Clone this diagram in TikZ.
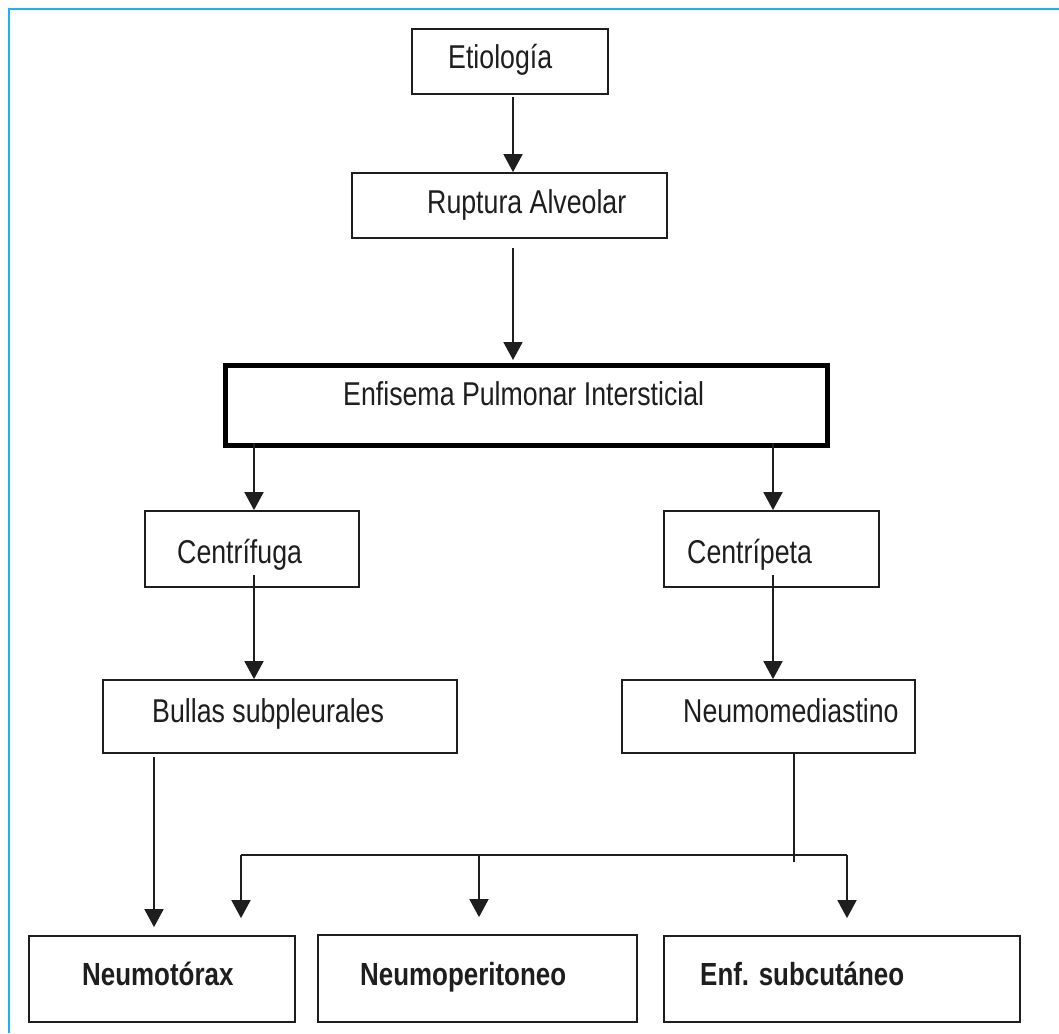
\documentclass[tikz,border=0pt]{standalone}
\usepackage{fontspec}
\setmainfont{Liberation Sans}[FakeStretch=0.81]
\usetikzlibrary{arrows.meta,calc}
\definecolor{frameblue}{HTML}{1AB4F0}
\definecolor{ink}{HTML}{1E1E1E}

\begin{document}
\begin{tikzpicture}[x=1pt,y=-1pt,
  box/.style={draw=ink, line width=1.8pt, inner sep=0pt},
  mainbox/.style={draw=black, line width=5pt, inner sep=0pt},
  txt/.style={anchor=base west, inner sep=0pt, text=ink, font=\fontsize{33}{38}\selectfont},
  btxt/.style={txt, font=\fontsize{32}{38}\selectfont\bfseries},
  arr/.style={draw=ink, line width=1.8pt, -{Triangle[width=19pt,length=18pt]}},
  link/.style={draw=ink, line width=1.8pt}
]
\useasboundingbox (0,0) rectangle (1059,1033);
\fill[white] (0,0) rectangle (1059,1033);

% outer frame (top and left edges)
\draw[frameblue, line width=2.5pt] (9,1033) -- (9,9) -- (1059,9);

% boxes
\node[box, minimum width=196pt, minimum height=65pt] (etio) at (510,61.5) {};
\node[box, minimum width=315pt, minimum height=65pt] (rupt) at (509.5,205.5) {};
\node[mainbox, minimum width=602pt, minimum height=80pt] (enf) at (526.5,405.5) {};
\node[box, minimum width=214pt, minimum height=76pt] (cfug) at (252,549) {};
\node[box, minimum width=215pt, minimum height=76pt] (cpet) at (771.5,549) {};
\node[box, minimum width=354pt, minimum height=73pt] (bull) at (280,716.5) {};
\node[box, minimum width=293pt, minimum height=73pt] (nmed) at (768.5,716.5) {};
\node[box, minimum width=266pt, minimum height=86pt] (ntx) at (162,979) {};
\node[box, minimum width=319pt, minimum height=87pt] (nper) at (477.5,978.5) {};
\node[box, minimum width=356pt, minimum height=86pt] (nsub) at (842,979) {};

% labels
\node[txt] (tetio) at (448,68) {Etiología};
\node[txt] (trupt) at (427,213) {Ruptura Alveolar};
\node[txt] (tenf) at (343,405) {Enfisema Pulmonar Intersticial};
\node[txt] (tcfug) at (177,563) {Centrífuga};
\node[txt] (tcpet) at (687,563) {Centrípeta};
\node[txt] (tbull) at (152,722) {Bullas subpleurales};
\node[txt] (tnmed) at (683,722) {Neumomediastino};
\node[btxt] (tntx) at (82,985) {Neumotórax};
\node[btxt] (tnper) at (360,985) {Neumoperitoneo};
\node[btxt] (tnsub) at (700,985) {Enf. subcutáneo};

% connector start points
\coordinate (s1) at (513,97);
\coordinate (s2) at (513,248);
\coordinate (s3) at (254,443);
\coordinate (s4) at (773,443);
\coordinate (s5) at (254,575);
\coordinate (s6) at (773,575);
\coordinate (s7) at (154,757);
\coordinate (s8) at (794,753);
\coordinate (bend) at (794,862);
\coordinate (j1) at (241,855);
\coordinate (j2) at (479,855);
\coordinate (j3) at (847,855);

% vertical chain
\draw[arr] (s1) -- (s1 |- rupt.north);
\draw[arr, shorten >=3pt] (s2) -- (s2 |- enf.north);
\draw[arr] (s3) -- (s3 |- cfug.north);
\draw[arr] (s4) -- (s4 |- cpet.north);
\draw[arr] (s5) -- (s5 |- bull.north);
\draw[arr] (s6) -- (s6 |- nmed.north);
\draw[arr, shorten >=8pt] (s7) -- (s7 |- ntx.north);

% distribution from Neumomediastino
\draw[link] (s8) -- (bend);
\draw[link] (j1) -- (j3);
\draw[arr, shorten >=17pt] (j1) -- (j1 |- ntx.north);
\draw[arr, shorten >=17pt] (j2) -- (j2 |- nper.north);
\draw[arr, shorten >=17pt] (j3) -- (j3 |- nsub.north);
\end{tikzpicture}
\end{document}
